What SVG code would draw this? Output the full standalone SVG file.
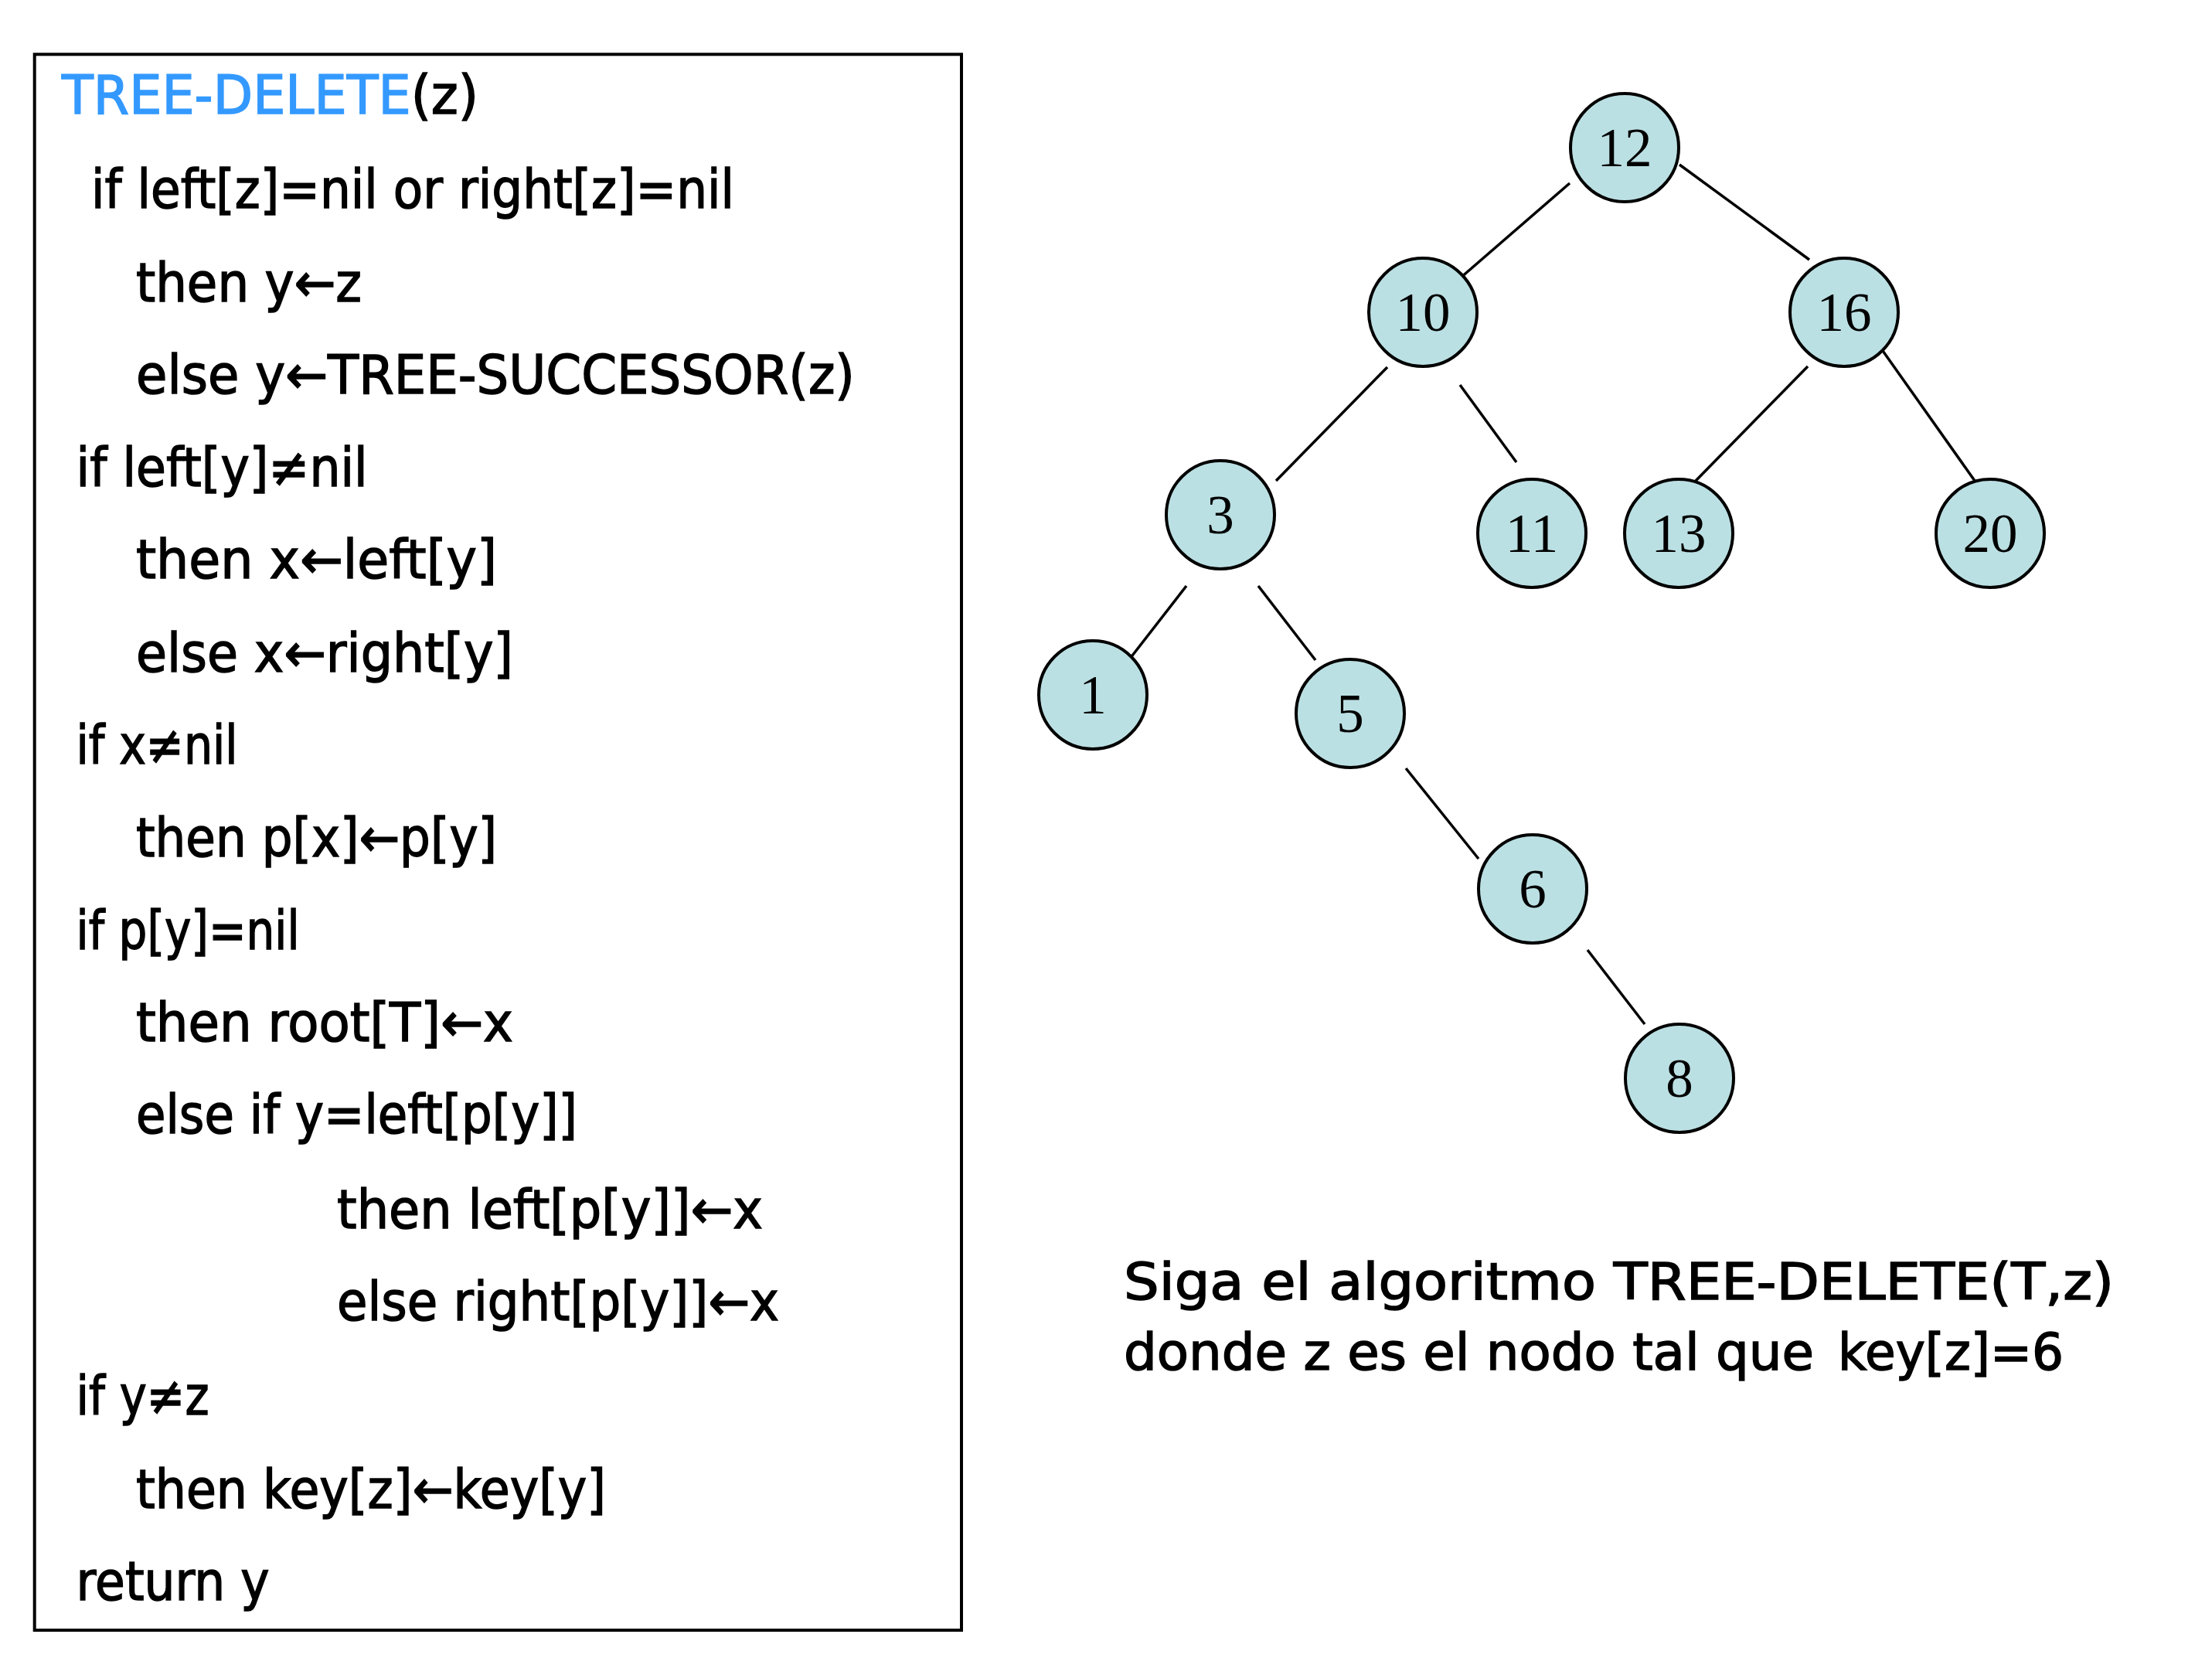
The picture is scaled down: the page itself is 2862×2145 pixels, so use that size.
<svg xmlns="http://www.w3.org/2000/svg" width="2862" height="2145" viewBox="0 0 2862 2145">
<style>
.code{font-family:"DejaVu Sans","Liberation Sans",sans-serif;font-size:70px;fill:#000;stroke:#000;stroke-width:1.5}
.blue{fill:#3399FF;stroke:#3399FF}
.note{font-family:"DejaVu Sans","Liberation Sans",sans-serif;font-size:66px;fill:#000;stroke:#000;stroke-width:1.5}
.node circle{fill:#BBE0E3;stroke:#000;stroke-width:4}
.node text{font-family:"Liberation Serif","Times New Roman",serif;font-size:71px;fill:#000;text-anchor:middle}
#connectors line{stroke:#000;stroke-width:3.5}
</style>
<rect width="2862" height="2145" fill="#fff"/>
<g id="code-box">
<rect x="44.7" y="70.3" width="1199.3" height="2038.7" fill="none" stroke="#000" stroke-width="4"/>
<text class="code" x="80" y="147" textLength="539" lengthAdjust="spacingAndGlyphs"><tspan class="blue">TREE-DELETE</tspan>(z)</text>
<text class="code" x="118" y="269" textLength="832" lengthAdjust="spacingAndGlyphs">if left[z]=nil or right[z]=nil</text>
<text class="code" x="176" y="390" textLength="292" lengthAdjust="spacingAndGlyphs">then y←z</text>
<text class="code" x="176" y="509" textLength="930" lengthAdjust="spacingAndGlyphs">else y←TREE-SUCCESSOR(z)</text>
<text class="code" x="98.6" y="629" textLength="377" lengthAdjust="spacingAndGlyphs">if left[y]≠nil</text>
<text class="code" x="176" y="748" textLength="467" lengthAdjust="spacingAndGlyphs">then x←left[y]</text>
<text class="code" x="176" y="869" textLength="488" lengthAdjust="spacingAndGlyphs">else x←right[y]</text>
<text class="code" x="98.6" y="988" textLength="209" lengthAdjust="spacingAndGlyphs">if x≠nil</text>
<text class="code" x="176" y="1108" textLength="467" lengthAdjust="spacingAndGlyphs">then p[x]←p[y]</text>
<text class="code" x="98.6" y="1228" textLength="289" lengthAdjust="spacingAndGlyphs">if p[y]=nil</text>
<text class="code" x="176" y="1347" textLength="488" lengthAdjust="spacingAndGlyphs">then root[T]←x</text>
<text class="code" x="176" y="1466" textLength="571" lengthAdjust="spacingAndGlyphs">else if y=left[p[y]]</text>
<text class="code" x="436" y="1589" textLength="551" lengthAdjust="spacingAndGlyphs">then left[p[y]]←x</text>
<text class="code" x="436" y="1708" textLength="572" lengthAdjust="spacingAndGlyphs">else right[p[y]]←x</text>
<text class="code" x="98.6" y="1830" textLength="172" lengthAdjust="spacingAndGlyphs">if y≠z</text>
<text class="code" x="176" y="1951" textLength="608" lengthAdjust="spacingAndGlyphs">then key[z]←key[y]</text>
<text class="code" x="98.6" y="2070" textLength="250" lengthAdjust="spacingAndGlyphs">return y</text>
</g>
<g id="connectors">
<line x1="2031" y1="237" x2="1889" y2="360"/>
<line x1="2173" y1="213" x2="2341" y2="336"/>
<line x1="1795" y1="475" x2="1651" y2="622"/>
<line x1="1889" y1="498" x2="1962" y2="598"/>
<line x1="2339" y1="474" x2="2194" y2="622"/>
<line x1="2434" y1="451" x2="2555" y2="622"/>
<line x1="1535" y1="758" x2="1462" y2="852"/>
<line x1="1628" y1="758" x2="1702" y2="854"/>
<line x1="1819" y1="994" x2="1913" y2="1111"/>
<line x1="2054" y1="1229" x2="2128" y2="1325"/>
</g>
<g id="node-12" class="node"><circle cx="2102" cy="191" r="70"/><text x="2102" y="215">12</text></g>
<g id="node-10" class="node"><circle cx="1841" cy="404" r="70"/><text x="1841" y="428">10</text></g>
<g id="node-16" class="node"><circle cx="2386" cy="404" r="70"/><text x="2386" y="428">16</text></g>
<g id="node-3" class="node"><circle cx="1579" cy="666" r="70"/><text x="1579" y="690">3</text></g>
<g id="node-11" class="node"><circle cx="1982" cy="690" r="70"/><text x="1982" y="714">11</text></g>
<g id="node-13" class="node"><circle cx="2172" cy="690" r="70"/><text x="2172" y="714">13</text></g>
<g id="node-20" class="node"><circle cx="2575" cy="690" r="70"/><text x="2575" y="714">20</text></g>
<g id="node-1" class="node"><circle cx="1414" cy="899" r="70"/><text x="1414" y="923">1</text></g>
<g id="node-5" class="node"><circle cx="1747" cy="923" r="70"/><text x="1747" y="947">5</text></g>
<g id="node-6" class="node"><circle cx="1983" cy="1150" r="70"/><text x="1983" y="1174">6</text></g>
<g id="node-8" class="node"><circle cx="2173" cy="1395" r="70"/><text x="2173" y="1419">8</text></g>
<g id="caption">
<text class="note" x="1454" y="1681" textLength="1281" lengthAdjust="spacingAndGlyphs">Siga el algoritmo TREE-DELETE(T,z)</text>
<text class="note" x="1454" y="1772" textLength="893" lengthAdjust="spacingAndGlyphs">donde z es el nodo tal que</text>
<text class="note blue" x="2378" y="1772" textLength="292" lengthAdjust="spacingAndGlyphs">key[z]=6</text>
</g>
</svg>
